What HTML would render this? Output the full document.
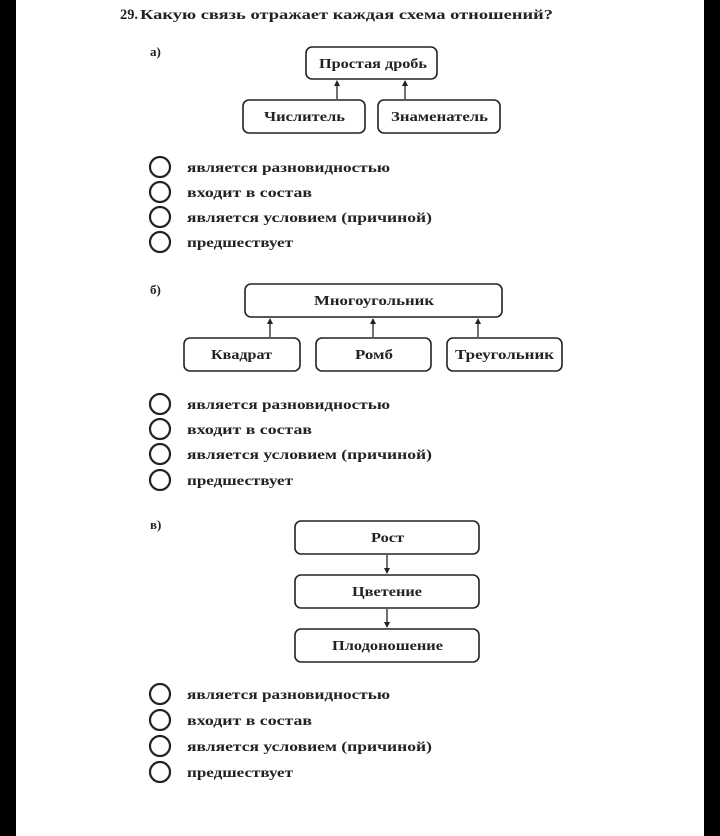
<!DOCTYPE html>
<html><head><meta charset="utf-8"><style>
html,body{margin:0;padding:0;background:#fff;width:720px;height:836px;overflow:hidden}
svg text{font-family:"Liberation Serif","Noto Serif CJK SC",serif;font-weight:bold;fill:#222}
</style></head><body>
<svg width="720" height="836" viewBox="0 0 720 836" xmlns="http://www.w3.org/2000/svg">
<rect x="0" y="0" width="16" height="836" fill="#000"/>
<rect x="704" y="0" width="16" height="836" fill="#000"/>
<text x="120" y="19" font-size="15" font-family="Liberation Sans,sans-serif" textLength="18" lengthAdjust="spacingAndGlyphs">29.</text>
<text x="140" y="19" font-size="14" textLength="413" lengthAdjust="spacingAndGlyphs">Какую связь отражает каждая схема отношений?</text>
<g fill="none" stroke="#222" stroke-width="1.6">
<rect x="306" y="47" width="131" height="32" rx="6"/>
<rect x="243" y="100" width="122" height="33" rx="6"/>
<rect x="378" y="100" width="122" height="33" rx="6"/>
<rect x="245" y="284" width="257" height="33" rx="6"/>
<rect x="184" y="338" width="116" height="33" rx="6"/>
<rect x="316" y="338" width="115" height="33" rx="6"/>
<rect x="447" y="338" width="115" height="33" rx="6"/>
<rect x="295" y="521" width="184" height="33" rx="6"/>
<rect x="295" y="575" width="184" height="33" rx="6"/>
<rect x="295" y="629" width="184" height="33" rx="6"/>
</g>
<g stroke="#222" stroke-width="1.3">
<line x1="337" y1="99" x2="337" y2="84"/>
<line x1="405" y1="99" x2="405" y2="84"/>
<line x1="270" y1="337" x2="270" y2="322"/>
<line x1="373" y1="337" x2="373" y2="322"/>
<line x1="478" y1="337" x2="478" y2="322"/>
<line x1="387" y1="555" x2="387" y2="569"/>
<line x1="387" y1="609" x2="387" y2="623"/>
</g>
<g fill="#222">
<path d="M334,86 L337,80 L340,86Z"/><path d="M402,86 L405,80 L408,86Z"/>
<path d="M267,324 L270,318 L273,324Z"/><path d="M370,324 L373,318 L376,324Z"/><path d="M475,324 L478,318 L481,324Z"/>
<path d="M384,568 L387,574 L390,568Z"/><path d="M384,622 L387,628 L390,622Z"/>
</g>
<g font-size="14">
<text x="319" y="68" textLength="108" lengthAdjust="spacingAndGlyphs">Простая дробь</text>
<text x="264" y="121" textLength="81" lengthAdjust="spacingAndGlyphs">Числитель</text>
<text x="391" y="121" textLength="97" lengthAdjust="spacingAndGlyphs">Знаменатель</text>
<text x="314" y="305" textLength="120" lengthAdjust="spacingAndGlyphs">Многоугольник</text>
<text x="211" y="359" textLength="61" lengthAdjust="spacingAndGlyphs">Квадрат</text>
<text x="355" y="359" textLength="38" lengthAdjust="spacingAndGlyphs">Ромб</text>
<text x="455" y="359" textLength="99" lengthAdjust="spacingAndGlyphs">Треугольник</text>
<text x="371" y="542" textLength="33" lengthAdjust="spacingAndGlyphs">Рост</text>
<text x="352" y="596" textLength="70" lengthAdjust="spacingAndGlyphs">Цветение</text>
<text x="332" y="650" textLength="111" lengthAdjust="spacingAndGlyphs">Плодоношение</text>
</g>
<g font-size="13">
<text x="150" y="56">а)</text>
<text x="150" y="294">б)</text>
<text x="150" y="529">в)</text>
</g>
<g fill="none" stroke="#222" stroke-width="2.2">
<circle cx="160" cy="167" r="10"/><circle cx="160" cy="192" r="10"/><circle cx="160" cy="217" r="10"/><circle cx="160" cy="242" r="10"/>
<circle cx="160" cy="404" r="10"/><circle cx="160" cy="429" r="10"/><circle cx="160" cy="454" r="10"/><circle cx="160" cy="480" r="10"/>
<circle cx="160" cy="694" r="10"/><circle cx="160" cy="720" r="10"/><circle cx="160" cy="746" r="10"/><circle cx="160" cy="772" r="10"/>
</g>
<g font-size="14">
<text x="187" y="172" textLength="203" lengthAdjust="spacingAndGlyphs">является разновидностью</text>
<text x="187" y="197" textLength="125" lengthAdjust="spacingAndGlyphs">входит в состав</text>
<text x="187" y="222" textLength="245" lengthAdjust="spacingAndGlyphs">является условием (причиной)</text>
<text x="187" y="247" textLength="106" lengthAdjust="spacingAndGlyphs">предшествует</text>
<text x="187" y="409" textLength="203" lengthAdjust="spacingAndGlyphs">является разновидностью</text>
<text x="187" y="434" textLength="125" lengthAdjust="spacingAndGlyphs">входит в состав</text>
<text x="187" y="459" textLength="245" lengthAdjust="spacingAndGlyphs">является условием (причиной)</text>
<text x="187" y="485" textLength="106" lengthAdjust="spacingAndGlyphs">предшествует</text>
<text x="187" y="699" textLength="203" lengthAdjust="spacingAndGlyphs">является разновидностью</text>
<text x="187" y="725" textLength="125" lengthAdjust="spacingAndGlyphs">входит в состав</text>
<text x="187" y="751" textLength="245" lengthAdjust="spacingAndGlyphs">является условием (причиной)</text>
<text x="187" y="777" textLength="106" lengthAdjust="spacingAndGlyphs">предшествует</text>
</g>
</svg>
</body></html>
